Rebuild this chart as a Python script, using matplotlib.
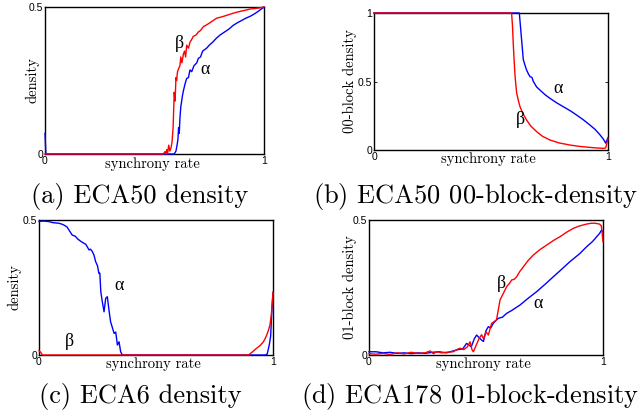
import matplotlib
matplotlib.use('Agg')
from matplotlib import pyplot as plt

plt.rcParams['mathtext.fontset'] = 'cm'

# (a) ECA50 density
a_beta_x = [0, 0.54, 0.548, 0.552, 0.556, 0.56, 0.565, 0.57, 0.575, 0.58, 0.585, 0.59, 0.594, 0.598,
            0.601, 0.605, 0.61, 0.616, 0.62, 0.625, 0.632, 0.637, 0.642, 0.647, 0.655, 0.662, 0.67,
            0.677, 0.69, 0.70, 0.71, 0.723, 0.74, 0.76, 0.784, 0.81, 0.835, 0.86, 0.89, 0.915, 0.936,
            0.96, 0.98, 1.0]
a_beta_y = [0, 0, 0.008, 0, 0.015, 0.005, 0.03, 0.01, 0.02, 0.04, 0.09, 0.21, 0.18, 0.26,
            0.25, 0.28, 0.29, 0.30, 0.33, 0.31, 0.34, 0.35, 0.33, 0.37, 0.36, 0.38, 0.39,
            0.40, 0.405, 0.415, 0.42, 0.433, 0.44, 0.45, 0.462, 0.467, 0.473, 0.479, 0.485, 0.489, 0.493,
            0.495, 0.497, 0.5]
a_alpha_x = [0, 0.004, 0.01, 0.59, 0.598, 0.603, 0.607, 0.61, 0.613, 0.616, 0.62, 0.624, 0.628, 0.632,
             0.64, 0.647, 0.655, 0.662, 0.67, 0.68, 0.693, 0.70, 0.71, 0.72, 0.738, 0.75, 0.765, 0.784,
             0.80, 0.82, 0.84, 0.86, 0.88, 0.90, 0.92, 0.936, 0.955, 0.975, 1.0]
a_alpha_y = [0.07, 0.0, 0, 0, 0.01, 0.03, 0.05, 0.09, 0.07, 0.12, 0.16, 0.18, 0.2, 0.215,
             0.24, 0.257, 0.26, 0.286, 0.28, 0.3, 0.31, 0.325, 0.33, 0.35, 0.36, 0.37, 0.38, 0.395,
             0.405, 0.415, 0.425, 0.438, 0.447, 0.455, 0.463, 0.468, 0.476, 0.486, 0.5]

# (b) ECA50 00-block-density
b_beta_x = [0, 0.588, 0.592, 0.595, 0.599, 0.603, 0.607, 0.61, 0.617, 0.624, 0.635, 0.652, 0.67, 0.695,
            0.72, 0.752, 0.79, 0.838, 0.88, 0.923, 0.95, 0.98, 0.99, 1.0]
b_beta_y = [1, 1, 0.9, 0.78, 0.65, 0.535, 0.46, 0.414, 0.36, 0.316, 0.27, 0.219, 0.175, 0.134,
            0.1, 0.073, 0.052, 0.036, 0.026, 0.019, 0.015, 0.012, 0.015, 0.08]
b_alpha_x = [0, 0.621, 0.626, 0.631, 0.635, 0.638, 0.645, 0.652, 0.66, 0.667, 0.675, 0.681, 0.695, 0.709,
             0.73, 0.752, 0.78, 0.809, 0.84, 0.866, 0.895, 0.923, 0.945, 0.966, 0.98, 0.99, 1.0]
b_alpha_y = [1, 1, 0.9, 0.8, 0.72, 0.66, 0.62, 0.584, 0.555, 0.535, 0.53, 0.5, 0.46, 0.438,
             0.405, 0.377, 0.345, 0.316, 0.285, 0.255, 0.22, 0.182, 0.15, 0.11, 0.08, 0.05, 0.09]

# (c) ECA6 density
c_alpha_x = [0, 0.02, 0.043, 0.06, 0.085, 0.1, 0.107, 0.12, 0.128, 0.142, 0.155, 0.165, 0.171, 0.18,
             0.192, 0.2, 0.214, 0.22, 0.228, 0.235, 0.242, 0.25, 0.256, 0.26, 0.264, 0.27, 0.278,
             0.285, 0.292, 0.3, 0.306, 0.314, 0.321, 0.328, 0.335, 0.342, 0.349, 0.356, 0.9, 0.966,
             0.975, 0.984, 0.99, 0.994, 1.0]
c_alpha_y = [0.495, 0.496, 0.494, 0.49, 0.488, 0.484, 0.481, 0.474, 0.463, 0.444, 0.44, 0.43, 0.426, 0.42,
             0.414, 0.41, 0.389, 0.392, 0.383, 0.37, 0.346, 0.33, 0.302, 0.303, 0.235, 0.2, 0.16,
             0.21, 0.216, 0.16, 0.123, 0.1, 0.08, 0.085, 0.037, 0.049, 0.012, 0.0, 0, 0,
             0.003, 0.037, 0.07, 0.148, 0.232]
c_beta_x = [0, 0.007, 0.015, 0.895, 0.91, 0.93, 0.945, 0.959, 0.966, 0.973, 0.98, 0.987, 0.993, 1.0]
c_beta_y = [0.016, 0.01, 0, 0, 0.01, 0.025, 0.035, 0.049, 0.06, 0.074, 0.09, 0.111, 0.15, 0.232]

# (d) ECA178 01-block-density
d_beta_x = [0, 0.03, 0.06, 0.09, 0.12, 0.15, 0.18, 0.21, 0.24, 0.261, 0.275, 0.29, 0.31, 0.33, 0.36,
            0.375, 0.389, 0.405, 0.42, 0.432, 0.44, 0.446, 0.46, 0.47, 0.481, 0.49, 0.50, 0.51, 0.524,
            0.545, 0.56, 0.574, 0.588, 0.60, 0.61, 0.62, 0.631, 0.645, 0.66, 0.68, 0.702, 0.73, 0.759,
            0.79, 0.816, 0.845, 0.873, 0.9, 0.93, 0.95, 0.966, 0.985, 0.993, 1.0]
d_beta_y = [0.005, 0.003, 0.006, 0.002, 0.008, 0.004, 0.01, 0.006, 0.008, 0.015, 0.005, 0.012, 0.008,
            0.01, 0.012, 0.02, 0.025, 0.02, 0.03, 0.049, 0.02, 0.012, 0.04, 0.06, 0.075, 0.06, 0.086,
            0.074, 0.117, 0.13, 0.204, 0.228, 0.253, 0.265, 0.278, 0.28, 0.29, 0.31, 0.327, 0.35, 0.37,
            0.39, 0.407, 0.425, 0.438, 0.455, 0.469, 0.478, 0.485, 0.488, 0.488, 0.485, 0.478, 0.42]
d_alpha_x = [0, 0.03, 0.06, 0.09, 0.12, 0.15, 0.18, 0.21, 0.24, 0.27, 0.3, 0.33, 0.36, 0.38, 0.4,
             0.417, 0.43, 0.437, 0.45, 0.46, 0.475, 0.489, 0.5, 0.51, 0.52, 0.531, 0.545, 0.553, 0.57,
             0.588, 0.61, 0.645, 0.68, 0.717, 0.75, 0.788, 0.82, 0.859, 0.9, 0.93, 0.955, 0.973, 0.985,
             0.994, 1.0]
d_alpha_y = [0.012, 0.012, 0.008, 0.01, 0.006, 0.008, 0.005, 0.008, 0.006, 0.01, 0.012, 0.008, 0.015,
             0.02, 0.022, 0.043, 0.035, 0.03, 0.06, 0.074, 0.06, 0.05, 0.09, 0.105, 0.1, 0.117, 0.13,
             0.136, 0.14, 0.154, 0.165, 0.185, 0.21, 0.235, 0.26, 0.29, 0.315, 0.346, 0.375, 0.401,
             0.42, 0.438, 0.45, 0.463, 0.455]

W, H = 639, 416
fig = plt.figure(figsize=(W / 100, H / 100), dpi=100)


def add_panel(left, right, top, bottom, ymax, ylabel, caption, cap_xy, ylab_x,
              alpha, beta, alpha_pos, beta_pos, yticks, yticklabels):
    ax = fig.add_axes([left / W, 1 - bottom / H, (right - left) / W, (bottom - top) / H])
    ax.plot(alpha[0], alpha[1], color='blue', lw=1.0, zorder=3, clip_on=False)
    ax.plot(beta[0], beta[1], color='red', lw=1.0, zorder=3, clip_on=False)
    ax.set_xlim(0, 1)
    ax.set_ylim(0, ymax)
    ax.set_xticks([0, 1])
    ax.set_xticklabels(['0', '1'])
    ax.set_yticks(yticks)
    ax.set_yticklabels(yticklabels)
    ax.tick_params(direction='in', length=2.5, width=0.6, labelsize=7.5, pad=1.5,
                   top=True, right=True)
    for lab in ax.get_xticklabels() + ax.get_yticklabels():
        lab.set_family('Liberation Sans')
    for s in ax.spines.values():
        s.set_linewidth(1.0)
    ax.set_xlabel('synchrony rate', family='cmr10', fontsize=10.5, va='center')
    ax.xaxis.set_label_coords(0.49, -0.07)
    ax.set_ylabel(ylabel, family='cmr10', fontsize=10.5, va='center')
    ax.yaxis.set_label_coords(ylab_x, 0.5)
    ax.text(alpha_pos[0], alpha_pos[1], '\u03b1', fontsize=13, family='Liberation Serif',
            ha='center', va='center')
    ax.text(beta_pos[0], beta_pos[1], '\u03b2', fontsize=13, family='Liberation Serif',
            ha='center', va='center')
    fig.text(cap_xy[0] / W, 1 - cap_xy[1] / H, caption, family='cmr10', fontsize=19,
             ha='center', va='center')
    return ax


add_panel(45, 264, 7, 154, 0.5, 'density', '(a) ECA50 density', (140, 197), -0.059,
          (a_alpha_x, a_alpha_y), (a_beta_x, a_beta_y), (0.731, 0.286), (0.616, 0.377),
          [0, 0.5], ['0', '0.5'])
add_panel(374, 608, 13, 150, 1.0, '00-block density', r'(b) ECA50 $\mathtt{00}$-block-density', (475, 197),
          -0.103, (b_alpha_x, b_alpha_y), (b_beta_x, b_beta_y), (0.788, 0.45), (0.624, 0.219),
          [0, 0.5, 1], ['0', '0.5', '1'])
add_panel(39, 273, 220, 355, 0.5, 'density', '(c) ECA6 density', (140, 397), -0.107,
          (c_alpha_x, c_alpha_y), (c_beta_x, c_beta_y), (0.342, 0.259), (0.130, 0.049),
          [0, 0.5], ['0', '0.5'])
add_panel(369, 603, 220, 355, 0.5, '01-block density', r'(d) ECA178 $\mathtt{01}$-block-density', (470, 397),
          -0.081, (d_alpha_x, d_alpha_y), (d_beta_x, d_beta_y), (0.724, 0.191), (0.564, 0.265),
          [0, 0.5], ['0', '0.5'])

plt.savefig('out.png', dpi=100)
